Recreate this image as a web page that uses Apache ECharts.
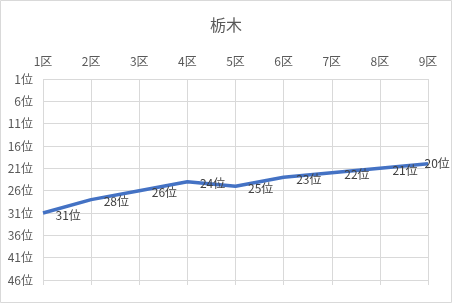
<!DOCTYPE html>
<html><head><meta charset="utf-8">
<script src="https://cdn.jsdelivr.net/npm/echarts@6/dist/echarts.min.js"></script>
<style>html,body{margin:0;padding:0;background:#fff}#c{width:452px;height:303px}</style>
</head><body><div id="c"></div>
<script>
const categories = ['1区','2区','3区','4区','5区','6区','7区','8区','9区'];
const ranks = [31, 28, 26, 24, 25, 23, 22, 21, 20];
const title = '栃木';
const FONT = '"Noto Sans CJK JP", sans-serif';

const chart = echarts.init(document.getElementById('c'));
const data = ranks.map((v, i) => i === ranks.length - 1
  ? { value: v, label: { offset: [-16, 0] } }
  : { value: v });

chart.setOption({
  animation: false,
  title: { text: title, left: 'center', top: 12,
    textStyle: { fontFamily: FONT, fontSize: 16, fontWeight: 'normal', color: '#595959' } },
  graphic: [{ type: 'rect', shape: { x: 0.5, y: 0.5, width: 451, height: 302 },
    style: { fill: 'none', stroke: '#d9d9d9', lineWidth: 1 }, silent: true }],
  grid: { left: 43, right: 24, top: 79, bottom: 23, containLabel: false },
  xAxis: [{
    type: 'category', data: categories, position: 'top', boundaryGap: false,
    axisLine: { show: false }, axisTick: { show: false },
    axisLabel: { fontFamily: FONT, fontSize: 12, color: '#595959', margin: 12 },
    splitLine: { show: true, lineStyle: { color: '#d9d9d9', width: 1 } }
  }, {
    type: 'category', data: categories, position: 'bottom', boundaryGap: false,
    axisLine: { show: false },
    axisTick: { show: true, length: 5, inside: false, lineStyle: { color: '#d9d9d9' } },
    axisLabel: { show: false }, splitLine: { show: false }
  }],
  yAxis: {
    type: 'value', inverse: true, min: 1, max: 46, interval: 5,
    axisLine: { show: false }, axisTick: { show: false },
    axisLabel: { fontFamily: FONT, fontSize: 12, color: '#595959', margin: 10,
      formatter: v => v + '位' },
    splitLine: { show: true, lineStyle: { color: '#d9d9d9', width: 1 } }
  },
  series: [{
    type: 'line', data: data, xAxisIndex: 0, showSymbol: true, symbol: 'circle', symbolSize: 1,
    itemStyle: { color: 'rgba(0,0,0,0)' },
    lineStyle: { color: '#4472C4', width: 3.5 },
    label: { show: true, position: 'right', distance: 12, offset: [0, 2],
      fontFamily: FONT, fontSize: 12, color: '#404040',
      formatter: p => p.value + '位' }
  }]
});
</script></body></html>
